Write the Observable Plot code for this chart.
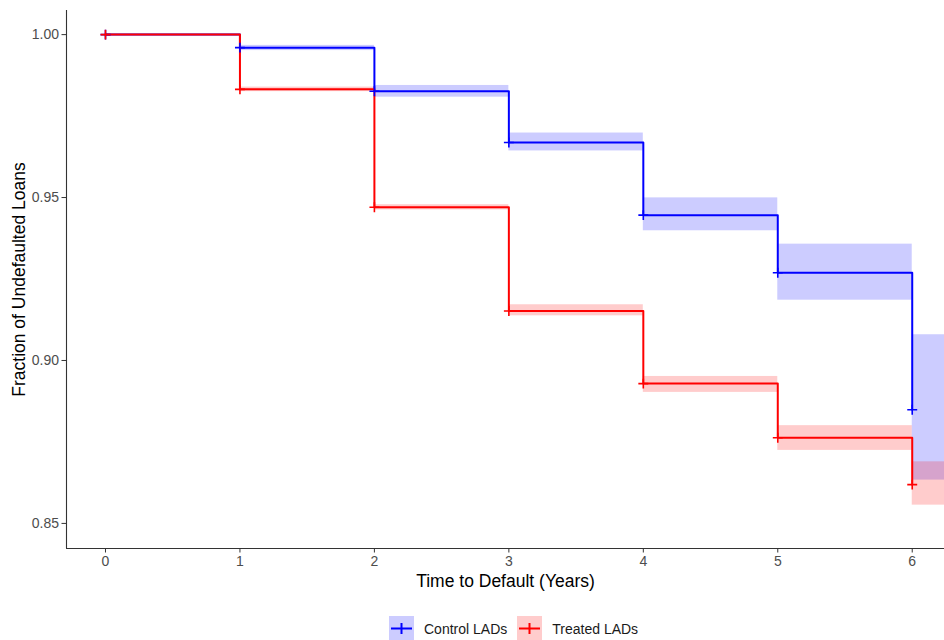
<!DOCTYPE html>
<html>
<head>
<meta charset="utf-8">
<script src="https://cdn.jsdelivr.net/npm/d3@7"></script>
<script src="https://cdn.jsdelivr.net/npm/@observablehq/plot@0.6"></script>
<style>
  html, body { margin: 0; padding: 0; background: #fff; }
  body { width: 944px; height: 640px; overflow: hidden; font-family: "Liberation Sans", Arial, sans-serif; }
  #legend { display: flex; justify-content: flex-start; align-items: center; height: 30px; padding-top: 7px; padding-left: 389px; box-sizing: border-box; }
  .item { display: flex; align-items: center; margin-right: 10px; font-size: 14px; color: #1a1a1a; }
  .key { width: 25px; height: 25px; margin-right: 10px; }
</style>
</head>
<body>
<div id="chart"></div>
<div id="legend"></div>
<script>
const times = [0, 1, 2, 3, 4, 5, 6];
const seriesNames = ["Control LADs", "Treated LADs"];
const seriesColors = ["#0000ff", "#ff0000"];
const controlSurv  = [1.000, 0.9960, 0.9826, 0.9669, 0.9446, 0.9269, 0.8849];
const controlLower = [1.000, 0.9951, 0.9808, 0.9643, 0.9398, 0.9185, 0.8633];
const controlUpper = [1.000, 0.9967, 0.9844, 0.9698, 0.9499, 0.9357, 0.9079];
const treatedSurv  = [1.000, 0.9832, 0.9470, 0.9152, 0.8929, 0.8763, 0.8619];
const treatedLower = [1.000, 0.9825, 0.9462, 0.9137, 0.8902, 0.8724, 0.8556];
const treatedUpper = [1.000, 0.9839, 0.9478, 0.9171, 0.8951, 0.8800, 0.8689];
const xTicks = [0, 1, 2, 3, 4, 5, 6];
const yTicks = [0.85, 0.90, 0.95, 1.00];
const xLabel = "Time to Default (Years)";
const yLabel = "Fraction of Undefaulted Loans";

const xDomain = [-0.29, 6.24];
const yDomain = [0.8423, 1.0074];

const survs = [controlSurv, treatedSurv];
const lowers = [controlLower, treatedLower];
const uppers = [controlUpper, treatedUpper];

const points = [];
const bands = [];
seriesNames.forEach((name, s) => {
  times.forEach((t, i) => {
    points.push({series: name, time: t, surv: survs[s][i]});
    bands.push({series: name, x1: t, x2: i < times.length - 1 ? times[i + 1] : xDomain[1], lo: lowers[s][i], hi: uppers[s][i]});
  });
});

const color = {domain: seriesNames, range: seriesColors};

const chart = Plot.plot({
  width: 944,
  height: 610,
  marginLeft: 66,
  marginRight: 0,
  marginTop: 10,
  marginBottom: 62,
  style: {fontFamily: "Liberation Sans, Arial, sans-serif", background: "#fff"},
  x: {domain: xDomain, ticks: xTicks},
  y: {domain: yDomain, ticks: yTicks},
  color,
  marks: [
    Plot.rect(bands, {x1: "x1", x2: "x2", y1: "lo", y2: "hi", fill: "series", fillOpacity: 0.2}),
    Plot.line(points, {x: "time", y: "surv", z: "series", stroke: "series", curve: "step-after", strokeWidth: 2}),
    Plot.dot(points, {x: "time", y: "surv", stroke: "series", symbol: "plus", r: 3.3, strokeWidth: 1.6}),
    Plot.ruleX([xDomain[0]], {stroke: "#333", strokeWidth: 1.1}),
    Plot.ruleY([yDomain[0]], {stroke: "#333", strokeWidth: 1.1}),
    Plot.axisX({ticks: xTicks, tickSize: 4.5, tickPadding: 3, fontSize: 14, fill: "#4d4d4d", stroke: "#333", label: null, tickFormat: d3.format("d")}),
    Plot.axisY({ticks: yTicks, tickSize: 4.5, tickPadding: 3, fontSize: 14, fill: "#4d4d4d", stroke: "#333", label: null, tickFormat: d3.format(".2f")}),
    Plot.text([xLabel], {frameAnchor: "bottom", lineAnchor: "middle", textAnchor: "middle", dy: 33, fontSize: 17.5, fill: "#000"}),
    Plot.text([yLabel], {frameAnchor: "left", lineAnchor: "middle", textAnchor: "middle", dx: -47, rotate: -90, fontSize: 17.5, fill: "#000"})
  ]
});
document.getElementById("chart").appendChild(chart);

const legend = document.getElementById("legend");
seriesNames.forEach((name, s) => {
  const item = document.createElement("div");
  item.className = "item";
  const c = seriesColors[s];
  item.innerHTML = `<svg class="key" viewBox="0 0 25 25"><rect width="25" height="25" fill="${c}" fill-opacity="0.2"></rect><line x1="12.5" y1="7" x2="12.5" y2="18" stroke="${c}" stroke-width="2"></line><line x1="2" y1="12.5" x2="23" y2="12.5" stroke="${c}" stroke-width="2"></line></svg><span>${name}</span>`;
  legend.appendChild(item);
});
</script>
</body>
</html>
